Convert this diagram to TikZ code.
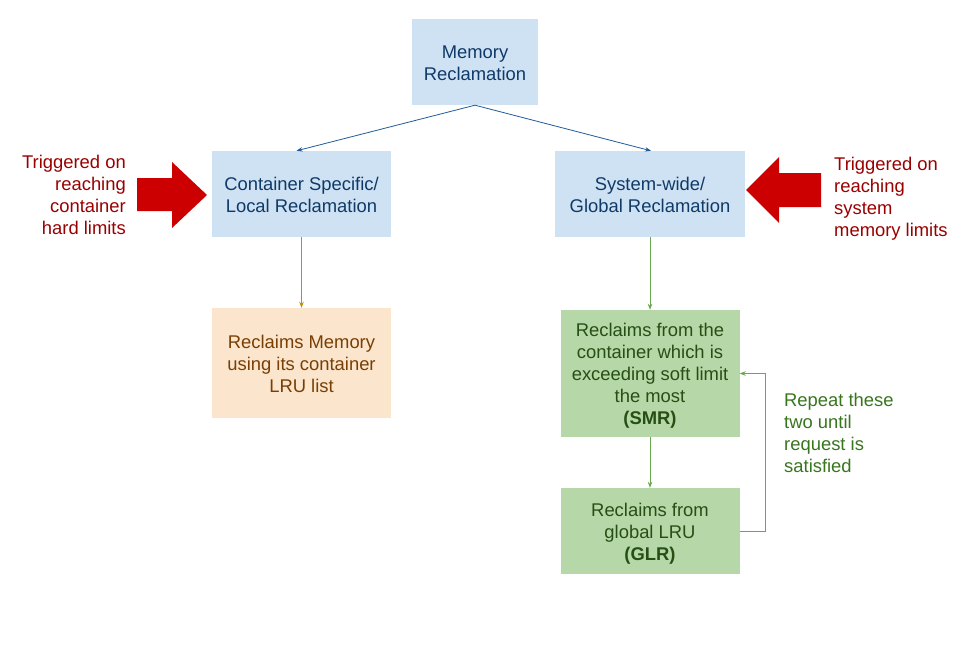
\documentclass[tikz,border=0pt]{standalone}
\usepackage{fontspec}
\setmainfont{Liberation Sans}
\usetikzlibrary{arrows.meta,calc}
\definecolor{bluefill}{HTML}{CFE2F3}
\definecolor{bluetext}{HTML}{0F3A68}
\definecolor{bluearrow}{HTML}{1F5C99}
\definecolor{orangefill}{HTML}{FCE5CD}
\definecolor{orangetext}{HTML}{783F04}
\definecolor{orangearrow}{HTML}{BF9000}
\definecolor{greenfill}{HTML}{B6D7A8}
\definecolor{greentext}{HTML}{274E13}
\definecolor{greenarrow}{HTML}{6AA84F}
\definecolor{greenlabel}{HTML}{38761D}
\definecolor{redarrow}{HTML}{CC0000}
\definecolor{redtext}{HTML}{990000}
\newcommand\topstr{\rule{0pt}{18.5pt}}
\newcommand\botstr{\rule[-4pt]{0pt}{0pt}}
\tikzset{
  box/.style={rectangle, inner sep=0pt, align=center,
    font=\fontsize{18.4}{22}\selectfont},
  bluebox/.style={box, fill=bluefill, text=bluetext},
  orangebox/.style={box, fill=orangefill, text=orangetext},
  greenbox/.style={box, fill=greenfill, text=greentext},
  lbl/.style={inner sep=0pt, font=\fontsize{18.4}{22}\selectfont},
  conn/.style={line width=0.8pt, -{Stealth[length=6pt,width=4.5pt]}},
}
\begin{document}
\begin{tikzpicture}[x=1pt,y=-1pt]
\useasboundingbox (0,0) rectangle (969,670);
\fill[white] (0,0) rectangle (969,670);

\node[bluebox, minimum width=126pt, minimum height=86pt] (mem) at (475,62) {\topstr Memory\\Reclamation\botstr};
\node[bluebox, minimum width=179pt, minimum height=86pt] (cont) at (301.5,194) {\topstr Container Specific/\\Local Reclamation\botstr};
\node[bluebox, minimum width=190pt, minimum height=86pt] (sys) at (650,194) {\topstr System-wide/\\Global Reclamation\botstr};
\node[orangebox, minimum width=179pt, minimum height=110pt] (lru) at (301.5,363) {\topstr Reclaims Memory\\using its container\\LRU list\botstr};
\node[greenbox, minimum width=179pt, minimum height=127pt] (smr) at (650,373.5) {\topstr Reclaims from the\\container which is\\exceeding soft limit\\the most\\\textbf{(SMR)}\botstr};
\node[greenbox, minimum width=179pt, minimum height=86pt] (glr) at (650,531) {\topstr Reclaims from\\global LRU\\\textbf{(GLR)}\botstr};

\node[lbl, text=redtext, align=right, anchor=east] (ltxt) at (126,194) {\topstr Triggered on\\reaching\\container\\hard limits\botstr};
\node[lbl, text=redtext, align=left, anchor=west] (rtxt) at (834,196) {\topstr Triggered on\\reaching\\system\\memory limits\botstr};
\node[lbl, text=greenlabel, align=left, anchor=west] (rep) at (784,432) {\topstr Repeat these\\two until\\request is\\satisfied\botstr};

% red block arrows
\fill[redarrow] (137,178) -- (172,178) -- (172,162) -- (207,195) -- (172,228) -- (172,211) -- (137,211) -- cycle;
\fill[redarrow] (821,173) -- (779,173) -- (779,157) -- (746,190) -- (779,223) -- (779,207) -- (821,207) -- cycle;

% connectors
\draw[conn, bluearrow] (mem.south) -- ($(cont.north)+(-5,0)$);
\draw[conn, bluearrow] (mem.south) -- ($(sys.north)+(1,0)$);
\draw[conn, orangearrow] (cont.south) -- (lru.north);
\draw[conn, greenarrow] (sys.south) -- (smr.north);
\draw[conn, greenarrow] (smr.south) -- (glr.north);
\draw[conn, greenarrow] (glr.east) -- ++(26,0) |- (smr.east);
\end{tikzpicture}
\end{document}
